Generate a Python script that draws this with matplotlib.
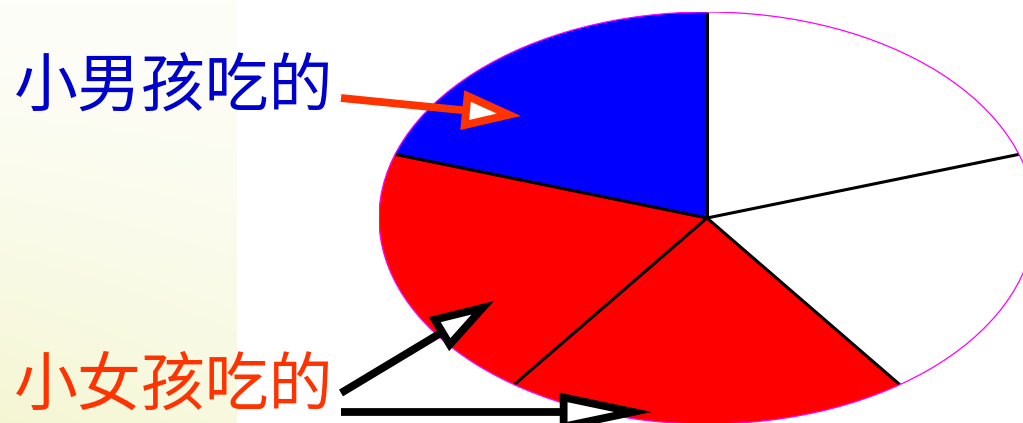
import numpy as np
import matplotlib
matplotlib.use("Agg")
import matplotlib.pyplot as plt
from matplotlib.patches import Circle, FancyArrowPatch

plt.rcParams['font.family'] = ['Noto Sans CJK SC', 'DejaVu Sans']

# cake cut into 5 equal pieces, counter-clockwise from 12 o'clock
pieces = [1, 1, 1, 1, 1]
eaten_by = ['boy', 'girl', 'girl', 'none', 'none']
piece_colors = {'boy': '#0000FF', 'girl': '#FF0000', 'none': '#FFFFFF'}
label_boy = '小男孩吃的'
label_girl = '小女孩吃的'

W, H = 1023, 423
fig = plt.figure(figsize=(W / 100, H / 100), dpi=100)

# background: pale cream strip on the left
bg = fig.add_axes([0, 0, 1, 1])
bg.set_xlim(0, W)
bg.set_ylim(H, 0)
bg.axis('off')
yy, xx = np.mgrid[0:H, 0:237]
k = 0.07 + 0.45 * (yy / H) ** 1.3 * (1 - 0.3 * xx / 237)
tint = np.array([235, 238, 170]) / 255
img = (1 - k[..., None]) + tint * k[..., None]
bg.imshow(img, extent=[0, 237, H, 0], aspect='auto', zorder=0)

# the pie, squashed into an ellipse
cx, cy, rx, ry = 707, 218, 328, 206
ax = fig.add_axes([(cx - rx) / W, (H - cy - ry) / H, 2 * rx / W, 2 * ry / H])
wedges, _ = ax.pie(pieces, colors=[piece_colors[e] for e in eaten_by],
                   startangle=90, counterclock=True,
                   wedgeprops=dict(linewidth=0))
ax.set_aspect('auto')
ax.set_xlim(-1, 1)
ax.set_ylim(-1, 1)
ax.axis('off')
for w in wedges:
    t = np.deg2rad(w.theta1)
    ax.plot([0, np.cos(t)], [0, np.sin(t)], color='black', lw=2.2,
            solid_capstyle='butt', zorder=3)
ax.add_patch(Circle((0, 0), 1, fill=False, edgecolor='#FF00FF', lw=0.9, zorder=4))

# labels and arrows on top
top = fig.add_axes([0, 0, 1, 1])
top.set_xlim(0, W)
top.set_ylim(H, 0)
top.axis('off')
top.patch.set_alpha(0)

top.text(14, 106, label_boy, color='#0000CC', fontsize=46, va='baseline', ha='left')
top.text(14, 405, label_girl, color='#FF3300', fontsize=46, va='baseline', ha='left')


def arrow(p0, p1, color, hl, hw):
    a = FancyArrowPatch(p0, p1, arrowstyle=f'-|>,head_length={hl},head_width={hw}',
                        mutation_scale=10, lw=5.6, edgecolor=color, facecolor='white',
                        shrinkA=0, shrinkB=0, joinstyle='miter', capstyle='butt')
    top.add_patch(a)


arrow((341, 98), (521, 116), '#FF3300', 3.1, 1.05)
arrow((341, 393), (494, 301), 'black', 3.4, 1.05)
arrow((341, 412), (652, 412), 'black', 5.0, 1.05)

fig.savefig('out.png', dpi=100)
